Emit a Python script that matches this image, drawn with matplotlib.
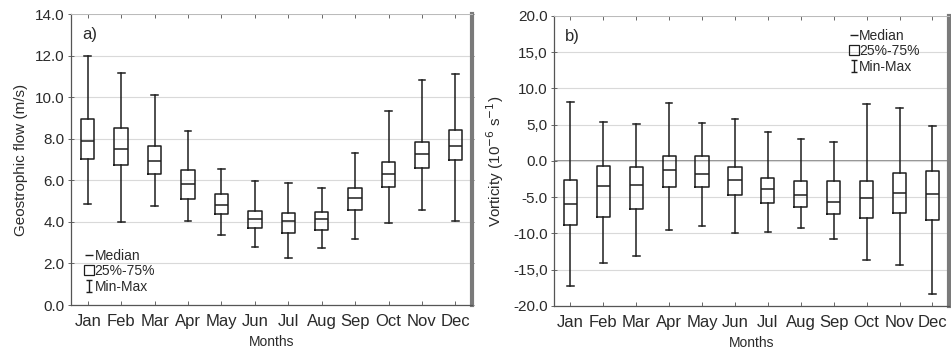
import matplotlib.pyplot as plt
from matplotlib.lines import Line2D
from matplotlib.path import Path

plt.rcParams['font.family'] = ['Liberation Sans', 'DejaVu Sans']

MONTHS = ['Jan', 'Feb', 'Mar', 'Apr', 'May', 'Jun',
          'Jul', 'Aug', 'Sep', 'Oct', 'Nov', 'Dec']

# geostrophic flow (m/s)
flow_min = [4.85, 4.0, 4.78, 4.06, 3.37, 2.81, 2.25, 2.73, 3.18, 3.93, 4.57, 4.06]
flow_q1 = [7.01, 6.75, 6.30, 5.08, 4.39, 3.69, 3.48, 3.61, 4.57, 5.69, 6.59, 6.98]
flow_med = [7.89, 7.50, 6.93, 5.80, 4.83, 4.14, 4.02, 4.14, 5.13, 6.32, 7.25, 7.67]
flow_q3 = [8.95, 8.50, 7.65, 6.49, 5.36, 4.52, 4.41, 4.49, 5.64, 6.88, 7.86, 8.42]
flow_max = [12.0, 11.18, 10.09, 8.39, 6.53, 5.98, 5.85, 5.61, 7.33, 9.33, 10.82, 11.11]

# vorticity (1e-6 s^-1)
vort_min = [-17.2, -14.1, -13.06, -9.53, -8.98, -9.9, -9.77, -9.3, -10.8, -13.66, -14.35, -18.34]
vort_q1 = [-8.85, -7.7, -6.64, -3.57, -3.57, -4.72, -5.77, -6.41, -7.33, -7.93, -7.24, -8.16]
vort_med = [-5.96, -3.48, -3.34, -1.28, -1.74, -2.56, -3.8, -4.72, -5.64, -5.17, -4.35, -4.49]
vort_q3 = [-2.65, -0.73, -0.9, 0.69, 0.69, -0.77, -2.34, -2.79, -2.79, -2.79, -1.6, -1.42]
vort_max = [8.1, 5.37, 5.14, 8.03, 5.28, 5.83, 3.99, 3.08, 2.61, 7.8, 7.29, 4.81]

flow_ticks = [0, 2, 4, 6, 8, 10, 12, 14]
flow_ticklabels = ['0.0', '2.0', '4.0', '6.0', '8.0', '10.0', '12.0', '14.0']
vort_ticks = [-20, -15, -10, -5, 0, 5, 10, 15, 20]
vort_ticklabels = ['-20.0', '-15,0', '-10.0', '-5.0', '0.0', '5,0', '10.0', '15,0', '20.0']

INK = '#1e1e1e'
TXT = '#2a2a2a'


def box_stats(lo, q1, med, q3, hi):
    return [dict(whislo=a, q1=b, med=c, q3=d, whishi=e, fliers=[])
            for a, b, c, d, e in zip(lo, q1, med, q3, hi)]


def minmax_marker():
    # I-beam glyph: top cap, stem, bottom cap
    verts = [(-0.5, 1), (0.5, 1), (0, 1), (0, -1), (-0.5, -1), (0.5, -1)]
    codes = [Path.MOVETO, Path.LINETO, Path.MOVETO, Path.LINETO,
             Path.MOVETO, Path.LINETO]
    return Path(verts, codes)


def add_legend(ax, loc, anchor):
    handles = [
        Line2D([], [], color=INK, lw=0, marker='_', markersize=6, markeredgewidth=1.0),
        Line2D([], [], color=INK, lw=0, marker='s', markersize=6.5,
               markerfacecolor='none', markeredgewidth=0.9),
        Line2D([], [], color=INK, lw=0, marker=minmax_marker(), markersize=9,
               markerfacecolor='none', markeredgewidth=1.0),
    ]
    ax.legend(handles, ['Median', '25%-75%', 'Min-Max'], loc=loc,
              bbox_to_anchor=anchor, frameon=False, fontsize=10,
              handlelength=0.5, handletextpad=0.15, labelspacing=0.1,
              borderaxespad=0.0, labelcolor=TXT)


def style_axes(ax, ticks, ticklabels, ylim, ylabel, tag):
    pos = list(range(1, len(MONTHS) + 1))
    ax.set_xlim(0.5, len(MONTHS) + 0.5)
    ax.set_ylim(*ylim)
    ax.set_yticks(ticks)
    ax.set_yticklabels(ticklabels)
    ax.set_xticks(pos)
    ax.set_xticklabels(MONTHS)
    ax.tick_params(axis='x', direction='in', length=3, width=0.7, colors='#666666',
                   labelcolor=TXT, labelsize=12, pad=6.5, top=True)
    ax.tick_params(axis='y', direction='inout', length=5, width=0.7, colors='#666666',
                   labelcolor=TXT, labelsize=11, pad=2, right=True)
    for t in ax.yaxis.get_major_ticks():
        t.tick2line.set_markersize(2.5)
    ax.grid(axis='y', color='#d9d9d9', lw=0.8)
    ax.set_axisbelow(True)
    for side in ('left', 'bottom'):
        ax.spines[side].set_color('#555555')
        ax.spines[side].set_linewidth(0.9)
    ax.spines['top'].set_color('#bbbbbb')
    ax.spines['top'].set_linewidth(0.7)
    ax.spines['right'].set_color('#7a7a7a')
    ax.spines['right'].set_linewidth(3.0)
    ax.set_xlabel('Months', fontsize=10, color=TXT, labelpad=4)
    ax.set_ylabel(ylabel, fontsize=11, color=TXT, labelpad=5)
    ax.text(0.028, 0.955, tag, transform=ax.transAxes, fontsize=12,
            color=TXT, va='top', ha='left')


def draw_boxes(ax, stats):
    props = dict(color=INK, linewidth=1.1)
    ax.bxp(stats, positions=range(1, len(stats) + 1), widths=0.4,
           showfliers=False, boxprops=props, whiskerprops=props,
           capprops=props, medianprops=props, capwidths=0.2,
           manage_ticks=False)


fig = plt.figure(figsize=(9.51, 3.52), dpi=100)
fig.patch.set_facecolor('white')

ax1 = fig.add_axes([0.0747, 0.1335, 0.4217, 0.8267])
ax2 = fig.add_axes([0.5825, 0.1307, 0.4153, 0.8240])

draw_boxes(ax1, box_stats(flow_min, flow_q1, flow_med, flow_q3, flow_max))
style_axes(ax1, flow_ticks, flow_ticklabels, (0, 14), 'Geostrophic flow (m/s)', 'a)')
add_legend(ax1, 'lower left', (0.022, 0.02))

ax2.axhline(0, color='#808080', lw=1.2, zorder=0.5)
draw_boxes(ax2, box_stats(vort_min, vort_q1, vort_med, vort_q3, vort_max))
style_axes(ax2, vort_ticks, vort_ticklabels, (-20, 20),
           r'Vorticity (10$^{-6}$ s$^{-1}$)', 'b)')
add_legend(ax2, 'upper right', (0.94, 0.975))

fig.savefig('out.png', dpi=100, facecolor='white')
